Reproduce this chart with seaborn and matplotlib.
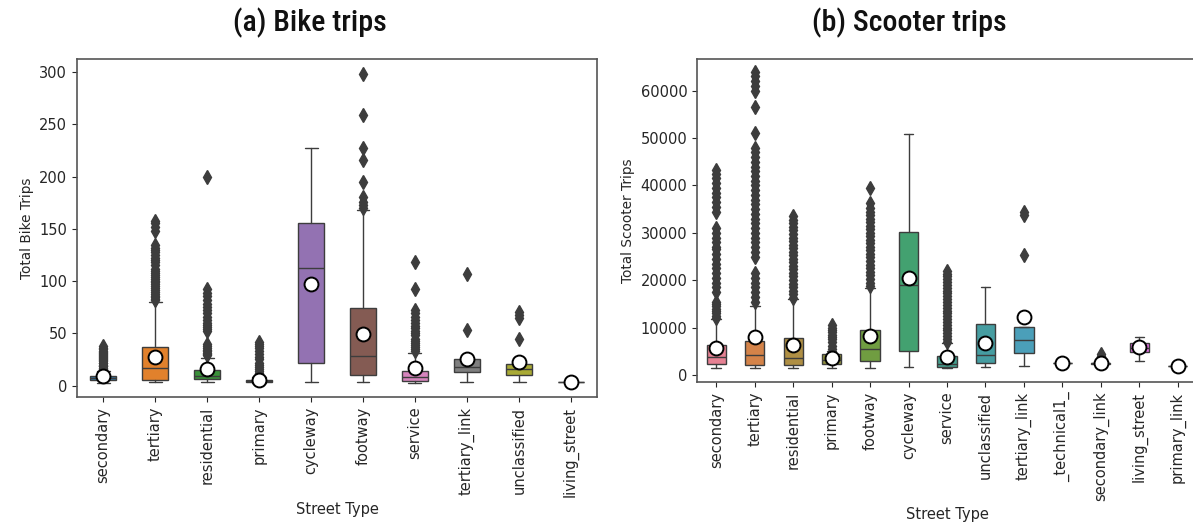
import matplotlib
matplotlib.use("Agg")
import matplotlib.pyplot as plt
import seaborn as sns

# ---------------- Bike trips per street type ----------------
bike_types = ["secondary", "tertiary", "residential", "primary", "cycleway",
              "footway", "service", "tertiary_link", "unclassified", "living_street"]
bike_q1 = [5, 5.5, 6, 3, 22, 10, 4, 13, 10, 3]
bike_med = [7, 16.6, 9, 4, 113, 28.7, 8, 18, 15.6, 3]
bike_q3 = [9.3, 37.3, 15, 5, 156, 74.7, 14, 25, 21, 3]
bike_lo = [2, 3, 3, 2, 3, 3, 2, 3, 3, 3]
bike_hi = [14, 80, 26, 8, 227, 168, 31.6, 25, 21, 3]
bike_mean = [9.3, 27, 15.7, 5.4, 97, 49, 16.6, 25.2, 22.3, 3.2]
bike_outliers = [
    [15, 16, 17, 18.5, 19, 20, 21.5, 22, 23, 24, 25.5, 26, 27, 28, 29.5, 30, 31, 32, 33.5, 35, 36, 38],
    [82, 83, 85, 86, 88, 90, 91, 93, 95, 97, 99, 100, 102, 104, 106, 108, 110, 112, 115, 118,
     120, 122, 125, 128, 130, 132, 135, 148, 152, 156, 158],
    [29, 30, 31, 33, 34, 36, 38, 40, 52, 54, 56, 58, 60, 63, 66, 69, 72, 75, 78, 82, 86, 89, 92, 200],
    [9, 10, 12, 14, 16, 18, 20, 22, 25, 27, 30, 33, 36, 38, 40, 42],
    [],
    [170, 173, 176, 181, 195, 216, 227, 259, 298],
    [33, 35, 37, 39, 41, 43, 45, 48, 50, 52, 55, 57, 60, 63, 66, 69, 72, 92, 118],
    [53, 107],
    [45, 65, 68, 70],
    [],
]

# ---------------- Scooter trips per street type ----------------
scooter_types = ["secondary", "tertiary", "residential", "primary", "footway", "cycleway",
                 "service", "unclassified", "tertiary_link", "_technical1_", "secondary_link",
                 "living_street", "primary_link"]
scooter_q1 = [2320, 2110, 2110, 2250, 3020, 5000, 1600, 2600, 4570, 2460, 2300, 4920, 1900]
scooter_med = [3730, 4220, 3520, 3100, 5490, 19000, 2300, 4220, 7390, 2460, 2460, 5630, 1900]
scooter_q3 = [6330, 7240, 7880, 4360, 9500, 30100, 4010, 10690, 10060, 2460, 2600, 6680, 1900]
scooter_lo = [1540, 1540, 1540, 1540, 1540, 1620, 1540, 1620, 1900, 2460, 2100, 3025, 1900]
scooter_hi = [11800, 14630, 15970, 5000, 18290, 50850, 6700, 18500, 10060, 2460, 3000, 8090, 1900]
scooter_mean = [5630, 8090, 6330, 3520, 8230, 20400, 3730, 6680, 12170, 2460, 2460, 5980, 1900]
scooter_outliers = [
    [12000, 12500, 13000, 13500, 14000, 14500, 15000, 15500, 17500, 18500, 19500, 20500, 21500,
     22500, 23500, 24500, 25500, 26500, 27000, 28000, 29000, 30000, 31000, 34500, 35500, 36500,
     37500, 38500, 39500, 40500, 41500, 42500, 43200],
    [15500, 16500, 17500, 18500, 19500, 20500, 21500, 25000, 26000, 27000, 28000, 29000, 30000,
     31000, 32000, 33000, 34000, 35000, 36000, 37000, 38000, 39000, 40000, 41000, 42000, 43000,
     44000, 45000, 46000, 47000, 48000, 51000, 56500, 60000, 61000, 62000, 63000, 64000],
    [16200, 17000, 17800, 18500, 19300, 20000, 20800, 21500, 22300, 23000, 23800, 24500, 25300,
     26000, 26800, 27500, 28300, 29000, 29800, 30500, 31300, 32000, 32800, 33500],
    [5500, 6200, 7000, 7500, 8000, 8500, 9000, 9500, 10000, 10500],
    [18800, 19500, 20300, 21000, 21800, 22500, 23300, 24000, 24800, 25500, 26300, 27000, 27800,
     28500, 29300, 30000, 30800, 31500, 32300, 33000, 33800, 34500, 35300, 36200, 39500],
    [],
    [7000, 7600, 8200, 8800, 9400, 10000, 10600, 11200, 11800, 12400, 13000, 13600, 14200, 14800,
     15400, 16000, 16600, 17200, 17800, 18400, 19000, 19600, 20200, 20800, 21400, 22000],
    [],
    [25300, 33800, 34400],
    [],
    [3300, 3700, 4100, 4500],
    [],
    [],
]


def box_stats(names, q1, med, q3, lo, hi, mean, fliers):
    return [dict(label=n, q1=a, med=m, q3=b, whislo=w0, whishi=w1, mean=mu, fliers=f)
            for n, a, m, b, w0, w1, mu, f in zip(names, q1, med, q3, lo, hi, mean, fliers)]


sns.set_style("ticks")
plt.rcParams["font.family"] = ["DejaVu Sans"]

LINE = "#3d3d3d"
TEXT = "#262626"


def draw_panel(ax, stats, colors, ylabel):
    art = ax.bxp(stats, positions=range(len(stats)), widths=0.5, patch_artist=True,
                 showmeans=True, manage_ticks=False,
                 boxprops=dict(edgecolor=LINE, linewidth=1.0),
                 medianprops=dict(color=LINE, linewidth=1.0),
                 whiskerprops=dict(color=LINE, linewidth=1.0),
                 capprops=dict(color=LINE, linewidth=1.0),
                 flierprops=dict(marker="d", markerfacecolor=LINE, markeredgecolor=LINE,
                                 markersize=7, linestyle="none"),
                 meanprops=dict(marker="o", markerfacecolor="white", markeredgecolor="black",
                                markersize=10, markeredgewidth=1.4))
    for patch, c in zip(art["boxes"], colors):
        patch.set_facecolor(c)
    ax.set_xticks(range(len(stats)))
    ax.set_xticklabels([s["label"] for s in stats], rotation=90, fontsize=10.5, color=TEXT)
    ax.tick_params(axis="y", labelsize=10.5, labelcolor=TEXT)
    ax.set_xlim(-0.5, len(stats) - 0.5)
    ax.set_xlabel("Street Type", fontsize=10.5, color=TEXT)
    ax.set_ylabel(ylabel, fontsize=9.8, color=TEXT)
    for sp in ax.spines.values():
        sp.set_color("#555555")
        sp.set_linewidth(1.2)


fig = plt.figure(figsize=(11.93, 5.29), dpi=100)
W, H = 1193, 529
ax1 = fig.add_axes([77 / W, (H - 397) / H, (597 - 77) / W, (397 - 59) / H])
ax2 = fig.add_axes([697 / W, (H - 382) / H, (1197 - 697) / W, (382 - 59) / H])

bike_colors = sns.color_palette("tab10", len(bike_types), desat=0.75)
scooter_colors = sns.color_palette("husl", len(scooter_types), desat=0.75)

draw_panel(ax1, box_stats(bike_types, bike_q1, bike_med, bike_q3, bike_lo, bike_hi,
                          bike_mean, bike_outliers), bike_colors, "Total Bike Trips")
ax1.set_ylim(-11, 312.7)
ax1.set_yticks([0, 50, 100, 150, 200, 250, 300])

draw_panel(ax2, box_stats(scooter_types, scooter_q1, scooter_med, scooter_q3, scooter_lo,
                          scooter_hi, scooter_mean, scooter_outliers),
           scooter_colors, "Total Scooter Trips")
ax2.set_ylim(-1480, 66690)
ax2.set_yticks([0, 10000, 20000, 30000, 40000, 50000, 60000])

title_font = ["Noto Sans Condensed", "DejaVu Sans Condensed", "Roboto Condensed",
              "Open Sans Condensed", "Liberation Sans Narrow", "DejaVu Sans"]
for x, label in [(310, "(a) Bike trips"), (909, "(b) Scooter trips")]:
    fig.text(x / W, 1 - 23 / H, label, ha="center", va="center", fontsize=21.5,
             family=title_font, stretch="condensed", weight="medium", color="#111111")

fig.savefig("out.png", dpi=100)
